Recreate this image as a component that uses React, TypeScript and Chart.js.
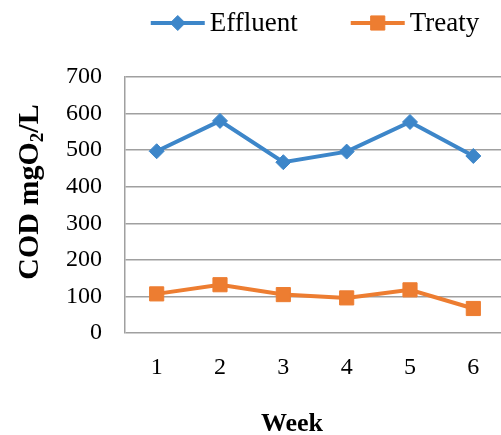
import { useEffect, useRef } from "react";
import { Chart, registerables } from "chart.js";
import { drawPoint } from "chart.js/helpers";

Chart.register(...registerables);

// Weekly COD readings (mg O2 per litre)
const weeks = ["1", "2", "3", "4", "5", "6"];
const effluent = [497, 580, 467, 496, 577, 484];
const treaty = [107, 132, 105, 96, 118, 67];
const yMin = 0;
const yMax = 700;
const yStep = 100;

const SERIF = "'Liberation Serif', 'Times New Roman', serif";
const GRID = "#a0a0a0";

// Draws the legend row above the plot and both axis titles.
const decorations = {
  id: "decorations",
  afterDraw(chart: any) {
    const { ctx, chartArea } = chart;
    ctx.save();

    // Legend: short line with the series marker, then the label
    ctx.font = `27px ${SERIF}`;
    ctx.textBaseline = "middle";
    ctx.textAlign = "left";
    const lineLen = 54;
    const gap = 5;
    const itemGap = 53;
    const items = chart.data.datasets.map((ds: any) => ({
      label: ds.label,
      color: ds.borderColor,
      style: ds.pointStyle,
      radius: ds.pointRadius,
    }));
    const widths = items.map((it: any) => lineLen + gap + ctx.measureText(it.label).width);
    const total = widths.reduce((a: number, b: number) => a + b, 0) + itemGap * (items.length - 1);
    let x = (chartArea.left + chartArea.right) / 2 - total / 2;
    const ly = 23;
    items.forEach((it: any, i: number) => {
      ctx.strokeStyle = it.color;
      ctx.fillStyle = it.color;
      ctx.lineWidth = 4;
      ctx.beginPath();
      ctx.moveTo(x, ly);
      ctx.lineTo(x + lineLen, ly);
      ctx.stroke();
      ctx.lineWidth = 1;
      drawPoint(ctx, { pointStyle: it.style, radius: it.radius, borderWidth: 1, rotation: 0 } as any, x + lineLen / 2, ly);
      ctx.fillStyle = "#000";
      ctx.fillText(it.label, x + lineLen + gap, ly + 1);
      x += widths[i] + itemGap;
    });

    // X axis title
    ctx.font = `bold 26px ${SERIF}`;
    ctx.textAlign = "center";
    ctx.fillText("Week", (chartArea.left + chartArea.right) / 2 - 23, 424);

    // Y axis title with subscript 2
    const main = `bold 30px ${SERIF}`;
    const sub = `bold 19px ${SERIF}`;
    const parts = [
      { t: "COD mgO", f: main, dy: 0 },
      { t: "2", f: sub, dy: 8 },
      { t: "/L", f: main, dy: 0 },
    ];
    const pw = parts.map((p) => {
      ctx.font = p.f;
      return ctx.measureText(p.t).width;
    });
    const len = pw.reduce((a, b) => a + b, 0);
    ctx.translate(30, 192);
    ctx.rotate(-Math.PI / 2);
    ctx.textAlign = "left";
    let px = -len / 2;
    parts.forEach((p, i) => {
      ctx.font = p.f;
      ctx.fillText(p.t, px, p.dy);
      px += pw[i];
    });

    ctx.restore();
  },
};

export default function App() {
  const ref = useRef<HTMLCanvasElement>(null);

  useEffect(() => {
    if (!ref.current) return;
    const chart = new Chart(ref.current, {
      type: "line",
      data: {
        labels: weeks,
        datasets: [
          {
            label: "Effluent",
            data: effluent,
            borderColor: "#3d86c9",
            backgroundColor: "#3d86c9",
            borderWidth: 4,
            pointStyle: "rectRot",
            pointRadius: 7.5,
            pointBorderWidth: 1,
            tension: 0,
          },
          {
            label: "Treaty",
            data: treaty,
            borderColor: "#ed7d31",
            backgroundColor: "#ed7d31",
            borderWidth: 4,
            pointStyle: "rect",
            pointRadius: 10,
            pointBorderWidth: 1,
            tension: 0,
          },
        ],
      },
      options: {
        animation: false,
        responsive: false,
        layout: { padding: { top: 77, right: 0, left: 0, bottom: 0 } },
        plugins: {
          legend: { display: false },
          tooltip: { enabled: false },
        },
        scales: {
          x: {
            offset: true,
            grid: { display: false, drawTicks: false },
            border: { display: false },
            ticks: { color: "#000", font: { family: SERIF, size: 24 }, padding: 20 },
            afterFit: (s: any) => {
              s.height = 102;
            },
          },
          y: {
            min: yMin,
            max: yMax,
            ticks: { stepSize: yStep, color: "#000", font: { family: SERIF, size: 24 }, padding: 23 },
            grid: { color: GRID, lineWidth: 1.5, drawTicks: false },
            border: { display: true, color: GRID, width: 1.5 },
            afterFit: (s: any) => {
              s.width = 125;
            },
          },
        },
      },
      plugins: [decorations],
    });
    return () => chart.destroy();
  }, []);

  return (
    <div style={{ position: "fixed", left: 0, top: 0, width: 501, height: 435, overflow: "hidden", background: "#fff" }}>
      <canvas ref={ref} width={516} height={435} style={{ display: "block" }} />
    </div>
  );
}
